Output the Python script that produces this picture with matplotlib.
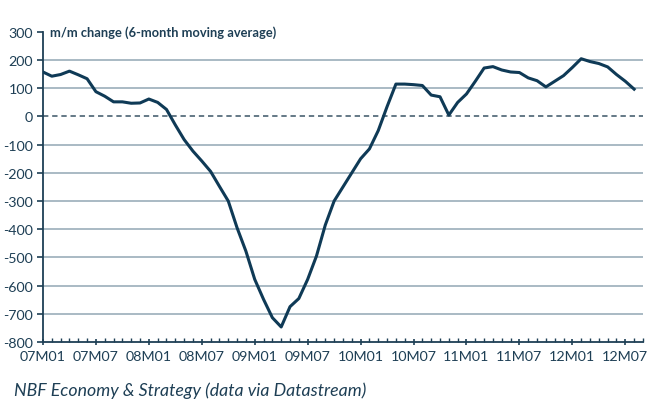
import matplotlib
matplotlib.use("Agg")
import matplotlib.pyplot as plt
from matplotlib.ticker import MultipleLocator
import numpy as np

# monthly, 07M01 .. 12M08 (6-month moving average of m/m change)
months = np.arange(68)
values = [158, 143, 149, 161, 148, 134, 88, 72, 52, 52,
          47, 48, 62, 50, 25, -30, -82, -123, -158, -195,
          -248, -300, -395, -478, -578, -649, -714, -747, -675, -646,
          -578, -495, -385, -300, -250, -200, -150, -115, -50, 35,
          115, 115, 113, 110, 76, 70, 5, 50, 80, 125,
          172, 177, 165, 158, 156, 137, 127, 105, 125, 145,
          174, 205, 195, 188, 176, 149, 125, 97]
tick_labels = ["07M01", "07M07", "08M01", "08M07", "09M01", "09M07",
               "10M01", "10M07", "11M01", "11M07", "12M01", "12M07"]
y_ticks = [300, 200, 100, 0, -100, -200, -300, -400, -500, -600, -700, -800]

navy = "#0f3a56"
text_col = "#1e3f55"
grid_col = "#a3b4bf"

plt.rcParams["font.family"] = ["Lato", "DejaVu Sans"]
plt.rcParams["axes.unicode_minus"] = False

fig = plt.figure(figsize=(6.55, 4.02), dpi=100)
ax = fig.add_axes([0.0656, 0.147, 0.916, 0.771])

for v in y_ticks:
    if v == 0 or v == 300 or v == -800:
        continue
    ax.axhline(v, color=grid_col, lw=1.3, zorder=1)
ax.axhline(0, color="#3b5566", lw=1.1, ls=(0, (3.5, 2.5)), zorder=1)

ax.plot(months, values, color=navy, lw=2.2, zorder=3, solid_joinstyle="round")

ax.set_xlim(0, 68)
ax.set_ylim(-800, 300)
ax.set_yticks(y_ticks)
ax.set_xticks(np.arange(0, 67, 6))
ax.set_xticklabels(tick_labels)
ax.xaxis.set_minor_locator(MultipleLocator(1))

for s in ["top", "right"]:
    ax.spines[s].set_visible(False)
for s in ["left", "bottom"]:
    ax.spines[s].set_color(text_col)
    ax.spines[s].set_linewidth(1.3)

ax.tick_params(axis="y", colors=text_col, labelsize=10.3, length=4, width=1.2, pad=3)
ax.tick_params(axis="x", which="major", colors=text_col, labelsize=10.3,
               length=5, width=1.2, direction="inout", pad=3)
ax.tick_params(axis="x", which="minor", colors=text_col, length=3, width=1,
               direction="in")

ax.text(0.012, 1.0, "m/m change (6-month moving average)", transform=ax.transAxes,
        fontsize=9.3, fontweight="bold", color=text_col, va="center", ha="left")

fig.text(0.021, 0.029, "NBF Economy & Strategy (data via Datastream)",
         fontsize=12.8, style="italic", color=text_col, ha="left", va="center")

fig.savefig("out.png", dpi=100)
